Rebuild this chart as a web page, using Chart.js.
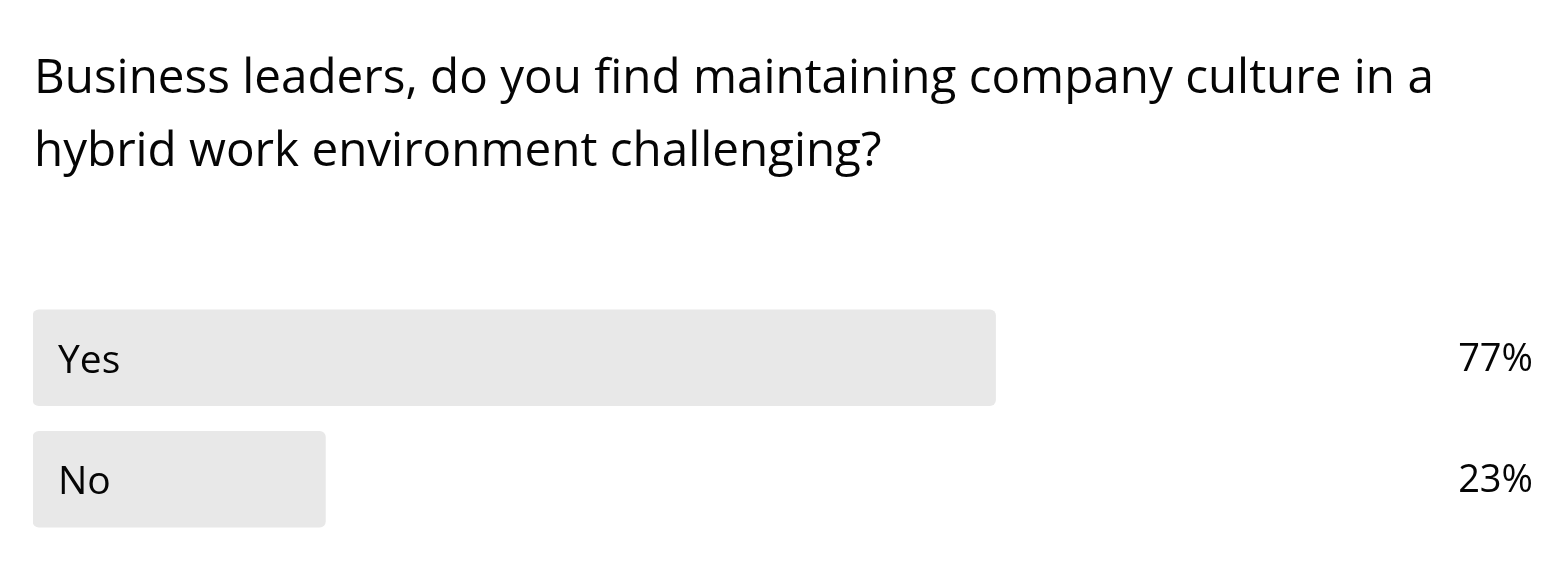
<!DOCTYPE html>
<html>
<head>
<meta charset="utf-8">
<script src="https://cdn.jsdelivr.net/npm/chart.js@4"></script>
<style>
  html, body { margin: 0; padding: 0; background: #ffffff; }
  #wrap { width: 1568px; height: 584px; }
</style>
</head>
<body>
<div id="wrap"><canvas id="c" width="1568" height="584"></canvas></div>
<script>
const titleLines = [
  "Business leaders, do you find maintaining company culture in a",
  "hybrid work environment challenging?"
];
const categories = ["Yes", "No"];
const shares = [76.7, 23.3];
const shareLabels = ["77%", "23%"];

const FONT = "'Open Sans', 'Noto Sans', sans-serif";

const titlePlugin = {
  id: "titlePlugin",
  afterDraw(chart) {
    const ctx = chart.ctx;
    ctx.save();
    ctx.fillStyle = "#050505";
    ctx.textBaseline = "alphabetic";
    ctx.textAlign = "left";
    ctx.font = "400 47.6px " + FONT;
    titleLines.forEach((line, i) => {
      ctx.fillText(line, 34, 92.5 + i * 73);
    });
    ctx.restore();
  }
};

const labelPlugin = {
  id: "labelPlugin",
  afterDatasetsDraw(chart) {
    const ctx = chart.ctx;
    const meta = chart.getDatasetMeta(0);
    ctx.save();
    meta.data.forEach((bar, i) => {
      ctx.fillStyle = "#050505";
      ctx.textBaseline = "alphabetic";
      ctx.font = "400 39px " + FONT;
      ctx.textAlign = "left";
      ctx.fillText(categories[i], chart.chartArea.left + 25, bar.y + 15);
      ctx.font = "400 38px " + FONT;
      ctx.textAlign = "right";
      ctx.fillText(shareLabels[i], 1533, bar.y + 13);
    });
    ctx.restore();
  }
};

new Chart(document.getElementById("c"), {
  type: "bar",
  data: {
    labels: categories,
    datasets: [{
      data: shares,
      backgroundColor: "#e8e8e8",
      borderWidth: 0,
      borderRadius: 6,
      borderSkipped: false,
      barThickness: 96
    }]
  },
  options: {
    indexAxis: "y",
    responsive: false,
    animation: false,
    devicePixelRatio: 1,
    layout: { padding: { left: 33, right: 280, top: 297, bottom: 44 } },
    scales: {
      x: { min: 0, max: 100, display: false },
      y: { display: false }
    },
    plugins: {
      legend: { display: false },
      tooltip: { enabled: false },
      title: { display: false }
    }
  },
  plugins: [titlePlugin, labelPlugin]
});
</script>
</body>
</html>
